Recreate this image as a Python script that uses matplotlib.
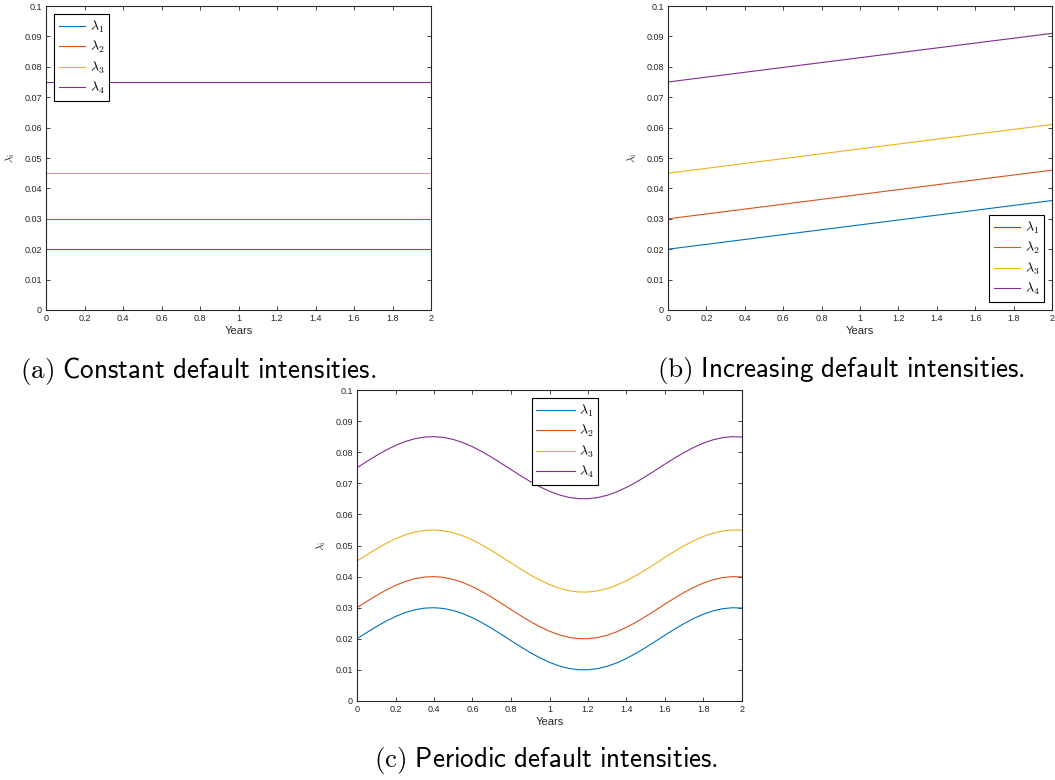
import matplotlib as mpl
mpl.use('Agg')
import matplotlib.pyplot as plt
import numpy as np

plt.rcParams['font.family'] = ['Liberation Sans', 'DejaVu Sans']
plt.rcParams['mathtext.fontset'] = 'cm'

# default intensity levels at t = 0 for the four names
lam0 = [0.02, 0.03, 0.045, 0.075]
# increasing case: level at the end of the horizon (2 years)
lam_end = [0.036, 0.046, 0.061, 0.091]
# periodic case: time grid and common swing around lam0 (units of 0.01)
t_per = [0.0, 0.05, 0.1, 0.15, 0.2, 0.25, 0.3, 0.35, 0.4, 0.45, 0.5,
         0.55, 0.6, 0.65, 0.7, 0.75, 0.8, 0.85, 0.9, 0.95, 1.0,
         1.05, 1.1, 1.15, 1.2, 1.25, 1.3, 1.35, 1.4, 1.45, 1.5,
         1.55, 1.6, 1.65, 1.7, 1.75, 1.8, 1.85, 1.9, 1.95, 2.0]
swing = [0.0, 0.199, 0.389, 0.565, 0.717, 0.842, 0.932, 0.985, 1.0, 0.974, 0.909,
         0.809, 0.676, 0.516, 0.335, 0.141, -0.058, -0.256, -0.443, -0.612, -0.757,
         -0.872, -0.952, -0.994, -0.996, -0.959, -0.884, -0.773, -0.631, -0.465, -0.279,
         -0.083, 0.117, 0.312, 0.494, 0.657, 0.794, 0.899, 0.968, 0.999, 0.989]
names = [r'$\lambda_1$', r'$\lambda_2$', r'$\lambda_3$', r'$\lambda_4$']
colors = ['#0072BD', '#D95319', '#EDB120', '#7E2F8E']

xticks = [0, 0.2, 0.4, 0.6, 0.8, 1, 1.2, 1.4, 1.6, 1.8, 2]
xlabels = ['0', '0.2', '0.4', '0.6', '0.8', '1', '1.2', '1.4', '1.6', '1.8', '2']
yticks = [0, 0.01, 0.02, 0.03, 0.04, 0.05, 0.06, 0.07, 0.08, 0.09, 0.1]
ylabels = ['0', '0.01', '0.02', '0.03', '0.04', '0.05', '0.06', '0.07', '0.08', '0.09', '0.1']

axcol = '#262626'
W, H = 1055., 780.

def make_ax(fig, x0, y0, x1, y1):
    # pixel box (left, top, right, bottom) -> figure axes
    ax = fig.add_axes([x0/W, 1-y1/H, (x1-x0)/W, (y1-y0)/H])
    ax.set_xlim(0, 2); ax.set_ylim(0, 0.1)
    ax.set_xticks(xticks); ax.set_xticklabels(xlabels)
    ax.set_yticks(yticks); ax.set_yticklabels(ylabels)
    ax.tick_params(direction='in', top=True, right=True, length=3, width=0.6,
                   labelsize=6.5, colors=axcol, pad=3)
    for s in ax.spines.values():
        s.set_linewidth(0.8); s.set_color(axcol)
    ax.set_xlabel('Years', fontsize=8, color=axcol, labelpad=2)
    ax.set_ylabel(r'$\lambda_{\rm i}$', fontsize=8, color=axcol, labelpad=5)
    return ax

def add_legend(ax, **kw):
    leg = ax.legend(fontsize=10, fancybox=False, framealpha=1, borderaxespad=0.6,
                    labelspacing=0.3, handletextpad=0.35, borderpad=0.3, **kw)
    leg.get_frame().set_edgecolor('black')
    leg.get_frame().set_linewidth(0.8)
    return leg

fig = plt.figure(figsize=(10.55, 7.8), dpi=100)

# (a) constant
ax = make_ax(fig, 46, 6, 431, 310)
for i in range(4):
    ax.plot([0, 2], [lam0[i], lam0[i]], color=colors[i], lw=0.8, label=names[i])
add_legend(ax, loc='upper left', handlelength=1.9)

# (b) increasing
ax = make_ax(fig, 668, 6, 1052, 310)
for i in range(4):
    ax.plot([0, 2], [lam0[i], lam_end[i]], color=colors[i], lw=0.8, label=names[i])
add_legend(ax, loc='lower right', handlelength=1.9)

# (c) periodic
ax = make_ax(fig, 357, 390, 742, 701)
sw = np.array(swing) * 0.01
for i in range(4):
    ax.plot(t_per, lam0[i] + sw, color=colors[i], lw=0.8, label=names[i])
add_legend(ax, loc='upper center', handlelength=2.8, bbox_to_anchor=(0.54, 1))

cap = dict(ha='center', va='center', fontsize=19.5)
fig.text(198/W, 1-371/H, r'$\mathrm{(a)}\ \mathsf{Constant\ default\ intensities.}$', **cap)
fig.text(841/W, 1-371/H, r'$\mathrm{(b)}\ \mathsf{Increasing\ default\ intensities.}$', **cap)
fig.text(546/W, 1-760/H, r'$\mathrm{(c)}\ \mathsf{Periodic\ default\ intensities.}$', **cap)

plt.savefig('out.png', dpi=100)
